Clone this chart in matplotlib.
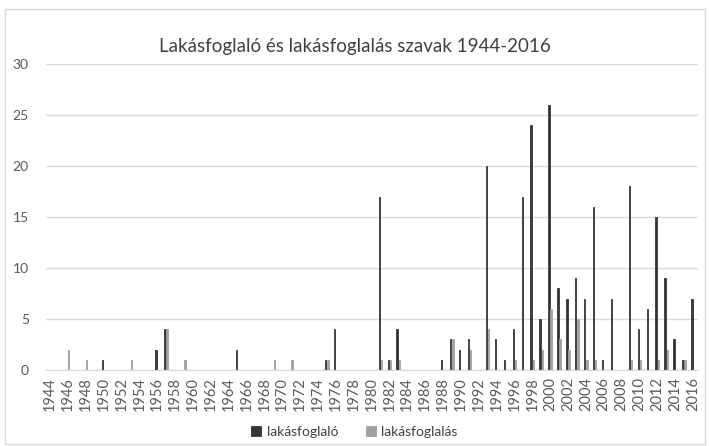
import matplotlib.pyplot as plt
import numpy as np
from matplotlib.patches import Rectangle

plt.rcParams['font.family'] = ['Lato', 'DejaVu Sans']

years = list(range(1944, 2017))

# lakásfoglaló (dark series), year -> count
foglalo = {1950: 1, 1956: 2, 1957: 4, 1965: 2, 1975: 1, 1976: 4, 1981: 17,
           1982: 1, 1983: 4, 1988: 1, 1989: 3, 1990: 2, 1991: 3, 1993: 20,
           1994: 3, 1995: 1, 1996: 4, 1997: 17, 1998: 24, 1999: 5, 2000: 26,
           2001: 8, 2002: 7, 2003: 9, 2004: 7, 2005: 16, 2006: 1, 2007: 7,
           2009: 18, 2010: 4, 2011: 6, 2012: 15, 2013: 9, 2014: 3, 2015: 1,
           2016: 7}

# lakásfoglalás (light series)
foglalas = {1946: 2, 1948: 1, 1953: 1, 1957: 4, 1959: 1, 1969: 1, 1971: 1,
            1975: 1, 1981: 1, 1982: 1, 1983: 1, 1989: 3, 1991: 2, 1993: 4,
            1996: 1, 1998: 1, 1999: 2, 2000: 6, 2001: 3, 2002: 2, 2003: 5,
            2004: 1, 2005: 1, 2009: 1, 2010: 1, 2012: 1, 2013: 2, 2015: 1}

y1 = [foglalo.get(y, 0) for y in years]
y2 = [foglalas.get(y, 0) for y in years]

fig = plt.figure(figsize=(7.09, 4.46), dpi=100)
ax = fig.add_axes([0.0642, 0.1704, 0.9196, 0.6861])

x = np.arange(len(years))
w = 0.15
ax.bar(x - 0.13, y1, width=w, color='#363636', edgecolor='#363636',
       linewidth=0.6, label='lakásfoglaló')
ax.bar(x + 0.11, y2, width=w, color='#a0a0a0', edgecolor='#a0a0a0',
       linewidth=0.6, label='lakásfoglalás')

ax.set_xlim(-0.5, len(years) - 0.5)
ax.set_ylim(0, 30)
ax.set_yticks(range(0, 31, 5))
ax.set_xticks(x[::2])
ax.set_xticklabels([str(y) for y in years[::2]], rotation=90)
ax.tick_params(axis='x', length=0, labelsize=10.5, colors='#595959', pad=5)
ax.tick_params(axis='y', length=0, labelsize=10, colors='#595959', pad=12)
ax.grid(axis='y', color='#d9d9d9', linewidth=1)
ax.set_axisbelow(True)
for s in ['top', 'right', 'left']:
    ax.spines[s].set_visible(False)
ax.spines['bottom'].set_color('#d9d9d9')

fig.suptitle('Lakásfoglaló és lakásfoglalás szavak 1944-2016',
             y=0.915, fontsize=13.5, color='#404040')

fig.legend(loc='center', bbox_to_anchor=(0.5, 0.032), ncol=2, frameon=False,
           fontsize=10, handlelength=0.7, handleheight=0.7, columnspacing=2,
           handletextpad=0.4, labelcolor='#404040')

fig.patches.append(Rectangle((0.007, 0.005), 0.988, 0.975, transform=fig.transFigure,
                             fill=False, edgecolor='#d9d9d9', linewidth=1))

fig.savefig('out.png', dpi=100)
